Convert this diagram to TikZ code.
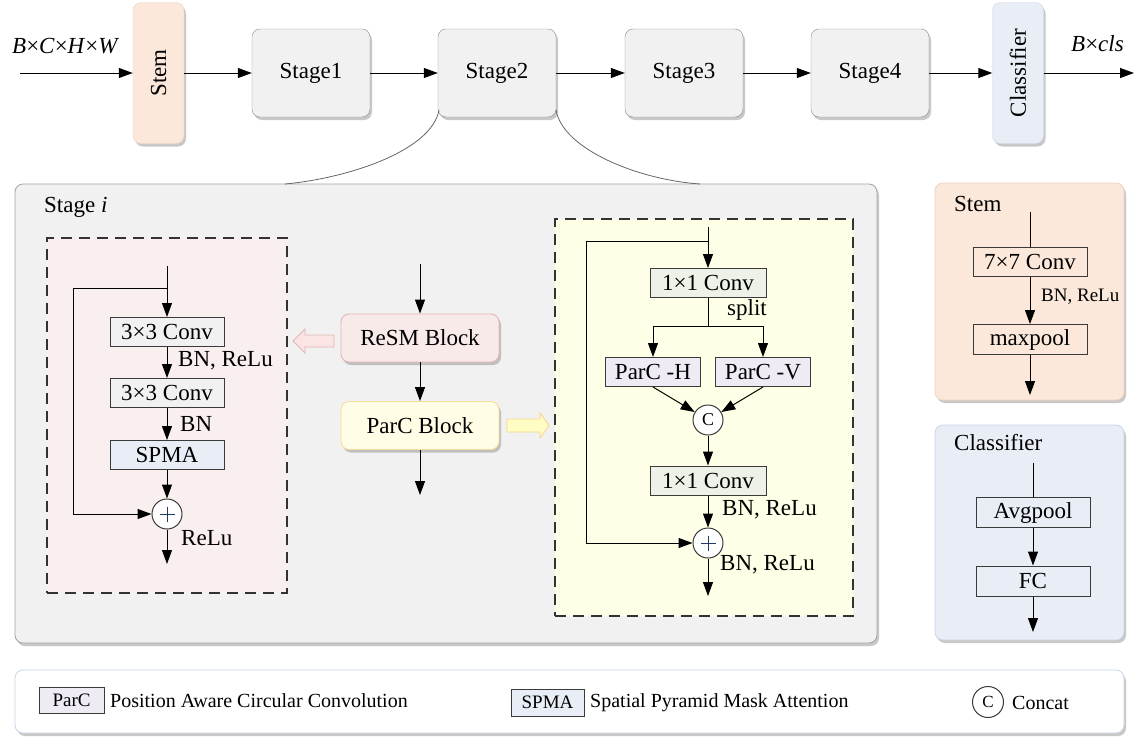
\documentclass[tikz,border=0pt]{standalone}
\usepackage{fontspec}
\setmainfont{Liberation Serif}
\usetikzlibrary{shadows,arrows.meta,calc}
\definecolor{stgfill}{HTML}{F1F1F1}
\definecolor{stgdraw}{HTML}{8C8C8C}
\definecolor{peach}{HTML}{FBE8DB}
\definecolor{peachdraw}{HTML}{F0D3C0}
\definecolor{lblue}{HTML}{E8EDF6}
\definecolor{lbluedraw}{HTML}{C9D5E6}
\definecolor{pinkbg}{HTML}{F9EFEE}
\definecolor{pinkblk}{HTML}{F9EAEA}
\definecolor{pinkdraw}{HTML}{E3B5B5}
\definecolor{yelbg}{HTML}{FFFFE7}
\definecolor{yelblk}{HTML}{FFFDE5}
\definecolor{yeldraw}{HTML}{F6DC9C}
\definecolor{convgreen}{HTML}{EDF1E7}
\definecolor{lav}{HTML}{EEEBF4}
\definecolor{boxdraw}{HTML}{3A3A3A}
\definecolor{plusc}{HTML}{203A66}
\newcommand\myfz[1]{\fontsize{#1pt}{#1pt}\selectfont}
\tikzset{
  shadowed/.style={drop shadow={shadow xshift=2pt,shadow yshift=-3pt,opacity=0.3,fill=black!70}},
  topbox/.style={draw=stgdraw, fill=stgfill, rounded corners=8pt, minimum width=118pt, minimum height=88pt, shadowed, font=\myfz{23}},
  sidebox/.style={rounded corners=8pt, minimum width=51pt, minimum height=141pt, shadowed},
  blockbox/.style={rounded corners=8pt, minimum width=158pt, minimum height=48pt, shadowed, line width=0.9pt, font=\myfz{23}},
  panel/.style={rounded corners=8pt, shadowed, line width=0.8pt},
  dashbox/.style={draw=black!80, dash pattern=on 11pt off 7pt, line width=1.2pt},
  op/.style={draw=boxdraw, line width=1pt, minimum width=114pt, minimum height=29pt, inner sep=0pt, font=\myfz{23}},
  arr/.style={-{Triangle[length=14pt,width=10pt]}, line width=1pt},
  ln/.style={line width=1pt},
  lbl/.style={anchor=west, inner sep=0pt, font=\myfz{23}},
  leglbl/.style={anchor=west, inner sep=0pt, font=\myfz{20}},
  plusnode/.style={circle, draw=boxdraw, fill=white, minimum size=30pt, inner sep=0pt, line width=1pt},
}
\begin{document}
\begin{tikzpicture}[x=1pt,y=-1pt]
\useasboundingbox (0,0) rectangle (1141,745);
\fill[white] (0,0) rectangle (1141,745);

% ---------- top row ----------
\node[sidebox, fill=peach, draw=peachdraw] (stem) at (158.5,73) {};
\node[rotate=90, font=\myfz{23}] (stemt) at (stem) {Stem};
\node[topbox] (s1) at (311,73) {Stage1};
\node[topbox] (s2) at (497,73) {Stage2};
\node[topbox] (s3) at (684,73) {Stage3};
\node[topbox] (s4) at (870,73) {Stage4};
\node[sidebox, fill=lblue, draw=lbluedraw] (cls) at (1018,73) {};
\node[rotate=90, font=\myfz{23}] (clst) at (cls) {Classifier};
\coordinate (in0) at (20,73);
\coordinate (out0) at (1134,73);
\node[lbl] (inlbl) at (12,46) {\textit{B}×\textit{C}×\textit{H}×\textit{W}};
\node[lbl] (outlbl) at (1071,44) {\textit{B}×\textit{cls}};
\draw[arr] (in0) -- (stem);
\draw[arr] (stem) -- (s1);
\draw[arr] (s1) -- (s2);
\draw[arr] (s2) -- (s3);
\draw[arr] (s3) -- (s4);
\draw[arr] (s4) -- (cls);
\draw[arr] (cls) -- (out0);

% ---------- Stage i ----------
\node[panel, draw=stgdraw!80, fill=stgfill, minimum width=862pt, minimum height=459pt] (stagei) at (446,413.5) {};
\coordinate (cl1) at (439,110);
\coordinate (cl2) at (285,184);
\coordinate (cr1) at (556,110);
\coordinate (cr2) at (700,184);
\draw[black!60, line width=0.8pt] (cl1) .. controls (432,150) and (350,178) .. (cl2);
\draw[black!60, line width=0.8pt] (cr1) .. controls (563,150) and (640,180) .. (cr2);
\node[lbl] (stlbl) at (44,207) {Stage \textit{i}};

% ReSM dashed box
\node[dashbox, fill=pinkbg, minimum width=240pt, minimum height=355pt] (resmbox) at (167,415.5) {};
\coordinate (ri) at (167,266);
\coordinate (rj) at (167,288);
\coordinate (rk) at (73,288);
\node[op, fill=stgfill] (c31) at (167,332) {3×3 Conv};
\node[op, fill=stgfill] (c32) at (167,393) {3×3 Conv};
\node[op, fill=lblue] (spma) at (167,455) {SPMA};
\node[plusnode] (p1) at (167,514) {};
\draw[plusc, line width=1pt] ($(p1)+(-7.5,0)$) -- ($(p1)+(7.5,0)$) ($(p1)+(0,-7.5)$) -- ($(p1)+(0,7.5)$);
\coordinate (ro) at (167,564);
\draw[arr] (ri) -- (c31);
\draw[arr] (c31) -- (c32);
\draw[arr] (c32) -- (spma);
\draw[arr] (spma) -- (p1);
\draw[arr] (rj) -- (rk) |- (p1);
\draw[arr] (p1) -- (ro);
\node[lbl] (l1) at (178,361) {BN, ReLu};
\node[lbl] (l2) at (180,424) {BN};
\node[lbl] (l3) at (181,538) {ReLu};

% middle column
\coordinate (mi) at (420,264);
\node[blockbox, fill=pinkblk, draw=pinkdraw] (resm) at (420,338) {ReSM Block};
\node[blockbox, fill=yelblk, draw=yeldraw] (parc) at (420,425.5) {ParC Block};
\coordinate (mo) at (420,495);
\draw[arr] (mi) -- (resm);
\draw[arr] (resm) -- (parc);
\draw[arr] (parc) -- (mo);
\filldraw[fill=pinkblk!80!pink!90, draw=pinkdraw, line width=0.8pt] (334,335) -- (305,335) -- (305,329) -- (293,341) -- (305,353) -- (305,347) -- (334,347) -- cycle;
\filldraw[fill=yelblk!85!yellow, draw=yeldraw!90!orange, line width=0.8pt] (507,419) -- (540,419) -- (540,413) -- (549,425.5) -- (540,438) -- (540,432) -- (507,432) -- cycle;

% ParC dashed box
\node[dashbox, fill=yelbg, minimum width=298pt, minimum height=397pt] (parcbox) at (704,417.5) {};
\coordinate (qi) at (708,227);
\coordinate (qj) at (708,241);
\coordinate (qk) at (586,241);
\node[op, fill=convgreen, minimum width=116pt] (k1) at (708,283) {1×1 Conv};
\coordinate (qs) at (708,326);
\coordinate (qsl) at (653,326);
\coordinate (qsr) at (763,326);
\node[op, fill=lav, minimum width=95pt] (ph) at (653,372) {ParC -H};
\node[op, fill=lav, minimum width=95pt] (pv) at (763,372) {ParC -V};
\node[plusnode, font=\myfz{18}] (cc) at (708,420) {C};
\node[op, fill=convgreen, minimum width=116pt] (k2) at (708,480.5) {1×1 Conv};
\node[plusnode] (p2) at (708,543) {};
\draw[plusc, line width=1pt] ($(p2)+(-7.5,0)$) -- ($(p2)+(7.5,0)$) ($(p2)+(0,-7.5)$) -- ($(p2)+(0,7.5)$);
\coordinate (qo) at (708,596);
\draw[arr] (qi) -- (k1);
\draw[ln] (k1) -- (qs);
\draw[arr] (qs) -- (qsl) -- (ph);
\draw[arr] (qs) -- (qsr) -- (pv);
\draw[arr] (ph.south) -- (cc);
\draw[arr] (pv.south) -- (cc);
\draw[arr] (cc) -- (k2);
\draw[arr] (k2) -- (p2);
\draw[arr] (qj) -- (qk) |- (p2);
\draw[arr] (p2) -- (qo);
\node[lbl] (l4) at (727,310) {split};
\node[lbl] (l5) at (722,510) {BN, ReLu};
\node[lbl] (l6) at (720,565) {BN, ReLu};

% ---------- Stem detail ----------
\node[panel, fill=peach, draw=peachdraw, minimum width=189pt, minimum height=217pt] (stemd) at (1029.5,291.5) {};
\node[lbl] (stemdl) at (954,204) {Stem};
\coordinate (ti) at (1030,212);
\node[op, fill=peach] (c7) at (1030,262) {7×7 Conv};
\node[op, fill=peach, minimum height=30pt] (mp) at (1030,339.5) {maxpool};
\coordinate (to) at (1030,395);
\draw[ln] (ti) -- (c7);
\draw[arr] (c7) -- (mp);
\draw[arr] (mp) -- (to);
\node[lbl, font=\myfz{19}] (l7) at (1041,297) {BN, ReLu};

% ---------- Classifier detail ----------
\node[panel, fill=lblue, draw=lbluedraw, minimum width=189pt, minimum height=215pt] (clsd) at (1029.5,532.5) {};
\node[lbl] (clsdl) at (954,443) {Classifier};
\coordinate (ui) at (1033,463);
\node[op, fill=lblue, minimum height=30pt] (avg) at (1033,512.5) {Avgpool};
\node[op, fill=lblue, minimum height=30pt] (fc) at (1033,581) {FC};
\coordinate (uo) at (1033,632);
\draw[ln] (ui) -- (avg);
\draw[arr] (avg) -- (fc);
\draw[arr] (fc) -- (uo);

% ---------- Legend ----------
\node[panel, fill=white, draw=lbluedraw, minimum width=1109pt, minimum height=63pt] (leg) at (569.5,701.5) {};
\node[draw=boxdraw, fill=lav, line width=0.9pt, minimum width=65pt, minimum height=26pt, inner sep=0pt, font=\myfz{19}] (lgp) at (71.5,700) {ParC};
\node[leglbl] (lgpt) at (110,701) {Position Aware Circular Convolution};
\node[draw=boxdraw, fill=lblue, line width=0.9pt, minimum width=73pt, minimum height=27pt, inner sep=0pt, font=\myfz{19}] (lgs) at (547.5,702.5) {SPMA};
\node[leglbl] (lgst) at (590,703) {Spatial Pyramid Mask Attention};
\node[plusnode, minimum size=31pt, font=\myfz{17}] (lgc) at (988,702) {C};
\node[leglbl] (lgct) at (1012,703) {Concat};
\end{tikzpicture}
\end{document}
